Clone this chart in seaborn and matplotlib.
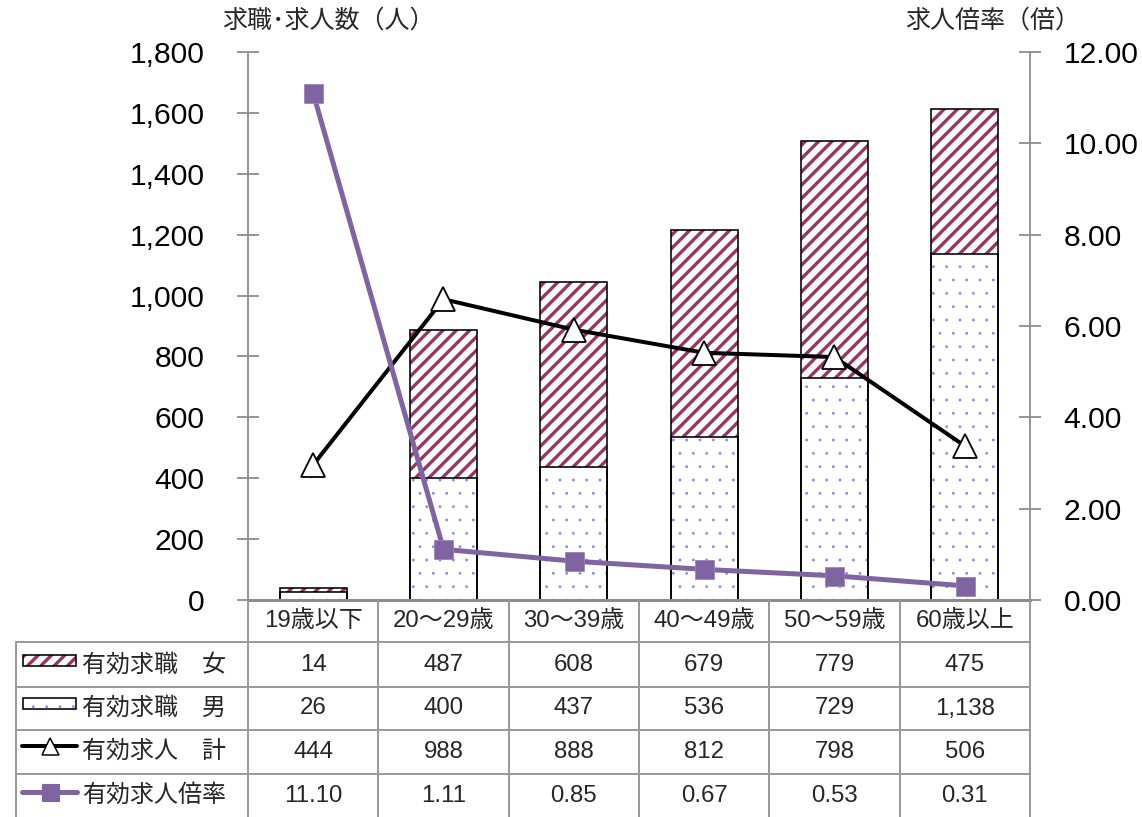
import numpy as np
import pandas as pd
import matplotlib as mpl
mpl.use("Agg")
import matplotlib.pyplot as plt
import seaborn as sns
from matplotlib.transforms import blended_transform_factory
from matplotlib.patches import Rectangle
from matplotlib.lines import Line2D

# ---------------- data ----------------
categories = ["19歳以下", "20～29歳", "30～39歳", "40～49歳", "50～59歳", "60歳以上"]
women = [14, 487, 608, 679, 779, 475]
men = [26, 400, 437, 536, 729, 1138]
openings = [444, 988, 888, 812, 798, 506]
ratio = [11.10, 1.11, 0.85, 0.67, 0.53, 0.31]
ratio_labels = ["11.10", "1.11", "0.85", "0.67", "0.53", "0.31"]
row_labels = ["有効求職　女", "有効求職　男", "有効求人　計", "有効求人倍率"]
left_ticks = [0, 200, 400, 600, 800, 1000, 1200, 1400, 1600, 1800]
right_ticks = [0, 2, 4, 6, 8, 10, 12]
left_title = "求職･求人数（人）"
right_title = "求人倍率（倍）"

# ---------------- style ----------------
sns.set_theme(style="white")
FAM = ["Liberation Sans", "Noto Sans CJK JP", "DejaVu Sans"]
plt.rcParams["font.family"] = FAM

W, H, DPI = 1142, 817, 80
PT = 72.0 / DPI  # points per pixel

MAROON = "#993366"
DOTBLUE = "#8585ff"
PURPLE = "#8064a2"
GRAY = "#8c8c8c"
TGRAY = "#9a9a9a"

STRIPE_LW = 3.3 * PT
DOT_LW = 0.1


def fx(px):
    return px / W


def fy(py):
    return 1 - py / H


def set_hlw(p, lw):
    if hasattr(p, "set_hatch_linewidth"):
        p.set_hatch_linewidth(lw)


fig = plt.figure(figsize=(W / DPI, H / DPI), dpi=DPI, facecolor="white")
ax = fig.add_axes([fx(248), fy(600), (1030 - 248) / W, (600 - 52) / H])

total = [w + m for w, m in zip(women, men)]
df = pd.DataFrame({"cat": categories, "total": total, "men": men,
                   "openings": openings, "ratio": ratio})
BW = 0.513

# hatched (women) full-height bars
with mpl.rc_context({"hatch.linewidth": STRIPE_LW}):
    sns.barplot(data=df, x="cat", y="total", order=categories, color="white",
                saturation=1, width=BW, errorbar=None, ax=ax)
    for p in ax.containers[-1]:
        p.set_facecolor("white")
        p.set_edgecolor(MAROON)
        p.set_linewidth(0)
        p.set_hatch("//")
        set_hlw(p, STRIPE_LW)

# dotted (men) bars
with mpl.rc_context({"hatch.linewidth": DOT_LW}):
    sns.barplot(data=df, x="cat", y="men", order=categories, color="white",
                saturation=1, width=BW, errorbar=None, ax=ax)
    for p in ax.containers[-1]:
        p.set_facecolor("white")
        p.set_edgecolor(DOTBLUE)
        p.set_linewidth(0)
        p.set_hatch(".")
        set_hlw(p, DOT_LW)

# outlines
for col in ["total", "men"]:
    sns.barplot(data=df, x="cat", y=col, order=categories, color="white",
                saturation=1, width=BW, errorbar=None, ax=ax)
    for p in ax.containers[-1]:
        p.set_facecolor("none")
        p.set_edgecolor("black")
        p.set_linewidth(1.6 * PT)

pos = np.arange(len(categories))
sns.lineplot(x=pos, y=openings, ax=ax, color="black", lw=4 * PT, marker="^",
             markersize=24 * PT, markerfacecolor="white", markeredgecolor="black",
             markeredgewidth=1.8 * PT, zorder=5, clip_on=False)

ax2 = ax.twinx()
sns.lineplot(x=pos, y=ratio, ax=ax2, color=PURPLE, lw=5 * PT, marker="s",
             markersize=19 * PT, markerfacecolor=PURPLE, markeredgecolor="#9a82b8",
             markeredgewidth=0.8 * PT, zorder=6, clip_on=False)

ax.set_xlim(-0.5, len(categories) - 0.5)
ax.set_ylim(0, 1800)
ax2.set_ylim(0, 12)
ax.set_xlabel("")
ax.set_ylabel("")
ax2.set_xlabel("")
ax2.set_ylabel("")
ax.set_xticks([])
ax2.set_xticks([])

ax.set_yticks(left_ticks)
ax.set_yticklabels([f"{v:,}" for v in left_ticks])
ax2.set_yticks(right_ticks)
ax2.set_yticklabels([f"{v:.2f}" for v in right_ticks])

ax.tick_params(axis="y", left=True, direction="inout", length=21 * PT, width=1.8 * PT,
               color=GRAY, pad=33 * PT, labelsize=30 * PT, labelcolor="black")
ax2.tick_params(axis="y", right=True, direction="inout", length=21 * PT, width=1.8 * PT,
                color=GRAY, pad=23 * PT, labelsize=30 * PT, labelcolor="black")

for s in ["top", "right"]:
    ax.spines[s].set_visible(False)
for s in ["top", "left", "bottom"]:
    ax2.spines[s].set_visible(False)
ax.spines["left"].set_color(GRAY)
ax.spines["left"].set_linewidth(1.8 * PT)
ax.spines["bottom"].set_color(GRAY)
ax.spines["bottom"].set_linewidth(3 * PT)
ax2.spines["right"].set_color(GRAY)
ax2.spines["right"].set_linewidth(1.8 * PT)

# axis titles
fig.text(fx(222), fy(21), left_title, ha="left", va="center", fontsize=25 * PT,
         family=FAM)
fig.text(fx(905), fy(21), right_title, ha="left", va="center", fontsize=25 * PT,
         family=FAM)

# ---------------- data table ----------------
bt = blended_transform_factory(ax.transData, fig.transFigure)
TFS = 24 * PT
LW_T = 2 * PT

for i in range(len(categories) + 1):
    xb = i - 0.5
    fig.add_artist(Line2D([xb, xb], [fy(601), fy(817)], transform=bt,
                          color=TGRAY, lw=LW_T))
fig.add_artist(Line2D([fx(16), fx(16)], [fy(642), fy(817)], transform=fig.transFigure,
                      color=TGRAY, lw=LW_T))
for yy in [642, 687, 730, 774]:
    fig.add_artist(Line2D([fx(16), fx(1030)], [fy(yy), fy(yy)],
                          transform=fig.transFigure, color=TGRAY, lw=LW_T))

for i, c in enumerate(categories):
    fig.text(i, fy(621), c, transform=bt, ha="center", va="center", fontsize=TFS,
             family=FAM)

row_centers = [665, 708.5, 752, 795.5]
row_values = [[f"{v:,}" for v in women], [f"{v:,}" for v in men],
              [f"{v:,}" for v in openings], ratio_labels]
for r, (yc, vals) in enumerate(zip(row_centers, row_values)):
    for i, v in enumerate(vals):
        fig.text(i, fy(yc), v, transform=bt, ha="center", va="center",
                 fontsize=TFS, family=FAM)
    fig.text(fx(82), fy(yc), row_labels[r], ha="left", va="center",
             fontsize=TFS, family=FAM)

# legend keys inside table
for (yc, hatch, hc, hlw) in [(660, "//", MAROON, STRIPE_LW), (703.5, ".", DOTBLUE, DOT_LW)]:
    with mpl.rc_context({"hatch.linewidth": hlw}):
        rect = Rectangle((fx(23), fy(yc + 5.5)), 53 / W, 11 / H, transform=fig.transFigure,
                         facecolor="white", edgecolor=hc, lw=0, hatch=hatch)
        set_hlw(rect, hlw)
    fig.add_artist(rect)
    fig.add_artist(Rectangle((fx(23), fy(yc + 5.5)), 53 / W, 11 / H,
                             transform=fig.transFigure, facecolor="none",
                             edgecolor="black", lw=1.6 * PT))

fig.add_artist(Line2D([fx(22), fx(77)], [fy(746), fy(746)], transform=fig.transFigure,
                      color="black", lw=4 * PT, solid_capstyle="round"))
fig.add_artist(Line2D([fx(50)], [fy(746)], transform=fig.transFigure, marker="^",
                      markersize=17 * PT, markerfacecolor="white",
                      markeredgecolor="black", markeredgewidth=1.5 * PT, lw=0))
fig.add_artist(Line2D([fx(22), fx(77)], [fy(792), fy(792)], transform=fig.transFigure,
                      color=PURPLE, lw=5 * PT, solid_capstyle="round"))
fig.add_artist(Line2D([fx(50)], [fy(792)], transform=fig.transFigure, marker="s",
                      markersize=17 * PT, markerfacecolor=PURPLE,
                      markeredgecolor=PURPLE, lw=0))

fig.savefig("out.png", dpi=DPI, facecolor="white")
